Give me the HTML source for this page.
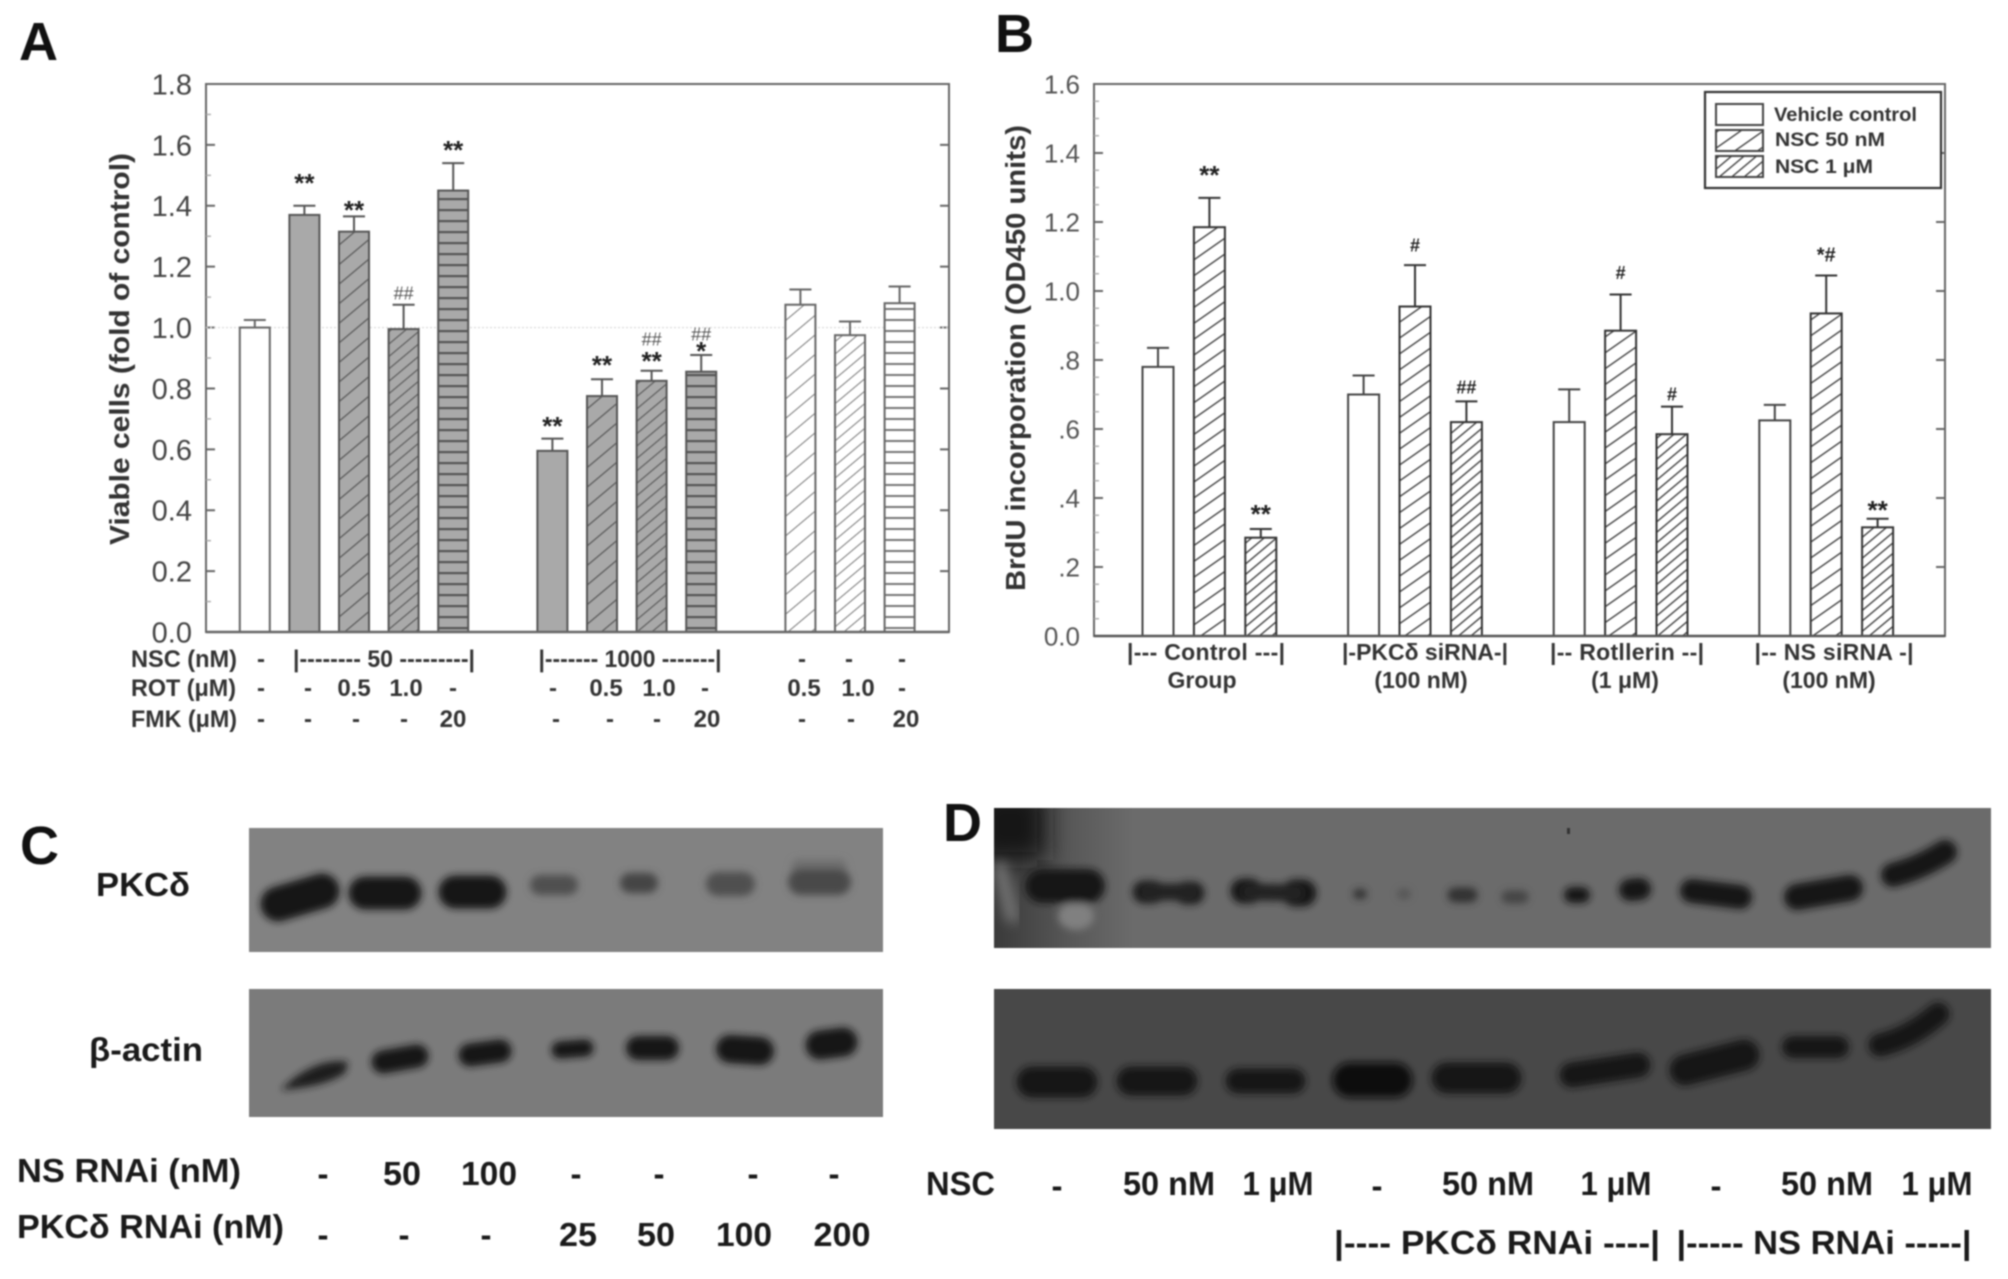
<!DOCTYPE html>
<html lang="en"><head><meta charset="utf-8"><title>Figure panels A-D</title>
<style>
html,body{margin:0;padding:0;background:#fff;width:2008px;height:1279px;overflow:hidden}
svg{display:block;filter:blur(.7px)}
text{font-family:"Liberation Sans",Arial,sans-serif}
.b{font-weight:bold}
.lab{font-weight:bold;fill:#1a1a1a;font-size:33px}
.row{font-weight:bold;fill:#333;font-size:24px;text-anchor:middle}
.brow{font-weight:bold;fill:#333;font-size:23px;text-anchor:middle}
.big{font-weight:bold;fill:#111;font-size:54px}
.band{fill:none;stroke:#151515;stroke-linecap:round}
</style></head><body>
<svg id="fig" xmlns="http://www.w3.org/2000/svg" width="2008" height="1279" viewBox="0 0 2008 1279">
<defs>
<pattern id="gWide" patternUnits="userSpaceOnUse" width="15" height="15" patternTransform="rotate(50)"><rect width="15" height="15" fill="#a9a9a9"/><line x1="0" y1="0" x2="0" y2="15" stroke="#555" stroke-width="2.4"/></pattern>
<pattern id="gDense" patternUnits="userSpaceOnUse" width="9.5" height="9.5" patternTransform="rotate(50)"><rect width="9.5" height="9.5" fill="#a9a9a9"/><line x1="0" y1="0" x2="0" y2="9.5" stroke="#555" stroke-width="2.2"/></pattern>
<pattern id="gHoriz" patternUnits="userSpaceOnUse" width="12" height="11"><rect width="12" height="11" fill="#a9a9a9"/><line x1="0" y1="1" x2="12" y2="1" stroke="#555" stroke-width="2.4"/></pattern>
<pattern id="wWide" patternUnits="userSpaceOnUse" width="15" height="15" patternTransform="rotate(50)"><rect width="15" height="15" fill="#fff"/><line x1="0" y1="0" x2="0" y2="15" stroke="#777" stroke-width="2"/></pattern>
<pattern id="wDense" patternUnits="userSpaceOnUse" width="9.5" height="9.5" patternTransform="rotate(50)"><rect width="9.5" height="9.5" fill="#fff"/><line x1="0" y1="0" x2="0" y2="9.5" stroke="#777" stroke-width="2"/></pattern>
<pattern id="wHoriz" patternUnits="userSpaceOnUse" width="12" height="11"><rect width="12" height="11" fill="#fff"/><line x1="0" y1="1" x2="12" y2="1" stroke="#777" stroke-width="2"/></pattern>
<pattern id="bWide" patternUnits="userSpaceOnUse" width="13" height="13" patternTransform="rotate(55)"><rect width="13" height="13" fill="#fff"/><line x1="0" y1="0" x2="0" y2="13" stroke="#333" stroke-width="2.6"/></pattern>
<pattern id="bDense" patternUnits="userSpaceOnUse" width="8" height="8" patternTransform="rotate(50)"><rect width="8" height="8" fill="#fff"/><line x1="0" y1="0" x2="0" y2="8" stroke="#333" stroke-width="2.6"/></pattern>
<filter id="bl" x="-30%" y="-80%" width="160%" height="260%"><feGaussianBlur stdDeviation="3.6"/></filter>
<filter id="bl3" x="-60%" y="-60%" width="220%" height="220%"><feGaussianBlur stdDeviation="6"/></filter>
<filter id="bl2" x="-60%" y="-60%" width="220%" height="220%"><feGaussianBlur stdDeviation="12"/></filter>
<linearGradient id="dLeft" x1="0" x2="1" y1="0" y2="0"><stop offset="0" stop-color="#3a3a3a"/><stop offset=".55" stop-color="#585858"/><stop offset="1" stop-color="#6b6b6b"/></linearGradient>
<clipPath id="clipD1"><rect x="994" y="808" width="997" height="140"/></clipPath>
</defs>

<text class="big" x="19" y="60">A</text>
<text class="big" x="995" y="52">B</text>
<text class="big" x="20" y="864">C</text>
<text class="big" x="943" y="841">D</text>

<g id="chartA"></g>
<g id="chartB"></g>

<text class="b" transform="translate(129,545) rotate(-90)" font-size="28" fill="#333" textLength="392" lengthAdjust="spacingAndGlyphs">Viable cells (fold of control)</text>
<text class="b" transform="translate(1025,591) rotate(-90)" font-size="28" fill="#333" textLength="466" lengthAdjust="spacingAndGlyphs">BrdU incorporation (OD450 units)</text>

<g>
<text class="row" style="text-anchor:start" x="131" y="667" textLength="106" lengthAdjust="spacingAndGlyphs">NSC (nM)</text>
<text class="row" x="261" y="667">-</text>
<text class="row" x="384" y="667" textLength="182" lengthAdjust="spacingAndGlyphs">|-------- 50 ---------|</text>
<text class="row" x="630" y="667" textLength="183" lengthAdjust="spacingAndGlyphs">|------- 1000 -------|</text>
<text class="row" x="802" y="667">-</text><text class="row" x="849" y="667">-</text><text class="row" x="902" y="667">-</text>
<text class="row" style="text-anchor:start" x="131" y="696" textLength="105" lengthAdjust="spacingAndGlyphs">ROT (μM)</text>
<text class="row" x="261" y="696">-</text><text class="row" x="308" y="696">-</text><text class="row" x="354" y="696">0.5</text><text class="row" x="406" y="696">1.0</text><text class="row" x="453" y="696">-</text>
<text class="row" x="553" y="696">-</text><text class="row" x="606" y="696">0.5</text><text class="row" x="659" y="696">1.0</text><text class="row" x="705" y="696">-</text>
<text class="row" x="804" y="696">0.5</text><text class="row" x="858" y="696">1.0</text><text class="row" x="902" y="696">-</text>
<text class="row" style="text-anchor:start" x="131" y="727" textLength="106" lengthAdjust="spacingAndGlyphs">FMK (μM)</text>
<text class="row" x="261" y="727">-</text><text class="row" x="308" y="727">-</text><text class="row" x="356" y="727">-</text><text class="row" x="404" y="727">-</text><text class="row" x="453" y="727">20</text>
<text class="row" x="556" y="727">-</text><text class="row" x="610" y="727">-</text><text class="row" x="657" y="727">-</text><text class="row" x="707" y="727">20</text>
<text class="row" x="802" y="727">-</text><text class="row" x="851" y="727">-</text><text class="row" x="906" y="727">20</text>
</g>

<g>
<text class="brow" x="1206" y="660" textLength="158" lengthAdjust="spacing">|--- Control ---|</text>
<text class="brow" x="1202" y="688">Group</text>
<text class="brow" x="1425" y="660" textLength="166" lengthAdjust="spacing">|-PKCδ siRNA-|</text>
<text class="brow" x="1421" y="688">(100 nM)</text>
<text class="brow" x="1627" y="660" textLength="154" lengthAdjust="spacing">|-- Rotllerin --|</text>
<text class="brow" x="1625" y="688">(1 μM)</text>
<text class="brow" x="1834" y="660" textLength="159" lengthAdjust="spacing">|-- NS siRNA -|</text>
<text class="brow" x="1829" y="688">(100 nM)</text>
</g>

<g>
<rect x="1705" y="92" width="236" height="96" fill="#fff" stroke="#333" stroke-width="2.2"/>
<rect x="1716" y="104" width="47" height="21" fill="#fff" stroke="#444" stroke-width="2"/>
<rect x="1716" y="130" width="47" height="21" fill="url(#bWide)" stroke="#444" stroke-width="2"/>
<rect x="1716" y="156" width="47" height="21" fill="url(#bDense)" stroke="#444" stroke-width="2"/>
<text class="b" x="1774" y="121" font-size="19" fill="#333" textLength="143" lengthAdjust="spacingAndGlyphs">Vehicle control</text>
<text class="b" x="1775" y="146" font-size="19" fill="#333" textLength="110" lengthAdjust="spacingAndGlyphs">NSC 50 nM</text>
<text class="b" x="1775" y="173" font-size="19" fill="#333" textLength="98" lengthAdjust="spacingAndGlyphs">NSC 1 μM</text>
</g>

<!-- Blot C -->
<g>
<rect x="249" y="828" width="634" height="124" fill="#828282"/>
<rect x="249" y="989" width="634" height="128" fill="#7b7b7b"/>
<g filter="url(#bl)">
<path class="band" stroke-width="35" d="M278 904L322 891"/>
<path class="band" stroke-width="33" d="M365 893H405"/>
<path class="band" stroke-width="33" d="M455 892H490"/>
<path class="band" style="stroke:#505050" stroke-width="20" d="M540 885H568"/>
<path class="band" style="stroke:#454545" stroke-width="20" d="M630 883H648"/>
<path class="band" style="stroke:#505050" stroke-width="24" d="M718 884H743"/>
<path class="band" style="stroke:#6e6e6e" stroke-width="18" d="M800 868H838"/>
<path class="band" style="stroke:#484848" stroke-width="26" d="M801 882H838"/>
<path fill="#1a1a1a" d="M281 1090C300 1070 325 1058 348 1062L345 1073C325 1086 300 1088 281 1090Z"/>
<path class="band" stroke-width="23" d="M383 1062L417 1056"/>
<path class="band" stroke-width="23" d="M470 1055L500 1051"/>
<path class="band" stroke-width="17" d="M560 1050L585 1048"/>
<path class="band" stroke-width="24" d="M638 1048H667"/>
<path class="band" stroke-width="28" d="M730 1049L760 1051"/>
<path class="band" stroke-width="29" d="M820 1045L843 1042"/>
</g>
</g>

<!-- Blot D -->
<g>
<rect x="994" y="808" width="997" height="140" fill="#6b6b6b"/>
<rect x="994" y="808" width="140" height="140" fill="url(#dLeft)"/>
<g clip-path="url(#clipD1)">
<rect x="975" y="790" width="70" height="70" fill="#161616" filter="url(#bl2)"/>
<path d="M980 940H1100" stroke="#181818" stroke-width="24" filter="url(#bl)"/>
<path d="M1925 925H1975" stroke="#5d5d5d" stroke-width="40" filter="url(#bl2)"/>
<path d="M1908 815V840" stroke="#7a7a7a" stroke-width="22" filter="url(#bl2)"/>
<path d="M1000 868L1012 916" stroke="#727272" stroke-width="14" stroke-linecap="round" filter="url(#bl3)"/>
<g filter="url(#bl)">
<ellipse cx="1076" cy="916" rx="18" ry="14" fill="#808080"/>
<path class="band" stroke-width="34" d="M1042 886H1088"/>
<path class="band" style="stroke:#1e1e1e" stroke-width="23" d="M1144 892H1153"/>
<path class="band" style="stroke:#1e1e1e" stroke-width="23" d="M1186 893H1193"/>
<path class="band" style="stroke:#222" stroke-width="17" d="M1150 892H1188"/>
<path class="band" stroke-width="25" d="M1243 891H1250"/>
<path class="band" stroke-width="27" d="M1295 893H1303"/>
<path class="band" style="stroke:#222" stroke-width="17" d="M1250 892L1295 893"/>
<path class="band" style="stroke:#333" stroke-width="10" d="M1358 894H1362"/>
<path class="band" style="stroke:#555" stroke-width="10" d="M1402 894H1406"/>
<path class="band" style="stroke:#333" stroke-width="15" d="M1455 895H1470"/>
<path class="band" style="stroke:#444" stroke-width="13" d="M1508 897H1522"/>
<path class="band" stroke-width="16" d="M1572 895H1582"/>
<path class="band" stroke-width="22" d="M1630 890L1640 889"/>
<path class="band" stroke-width="24" d="M1692 891L1740 897"/>
<path class="band" stroke-width="26" d="M1797 897L1850 888"/>
<path class="band" stroke-width="24" d="M1893 875Q1920 868 1945 852"/>
</g>
</g>
<rect x="994" y="989" width="997" height="140" fill="#484848"/>
<g filter="url(#bl)">
<path class="band" stroke-width="31" d="M1032 1082H1082"/>
<path class="band" stroke-width="29" d="M1131 1081H1183"/>
<path class="band" stroke-width="25" d="M1238 1081H1293"/>
<path class="band" style="stroke:#111" stroke-width="35" d="M1350 1080H1395"/>
<path class="band" stroke-width="31" d="M1447 1078H1506"/>
<path class="band" stroke-width="25" d="M1572 1075L1638 1065"/>
<path class="band" stroke-width="31" d="M1685 1070L1744 1055"/>
<path class="band" stroke-width="22" d="M1793 1047H1838"/>
<path class="band" stroke-width="23" d="M1880 1045Q1910 1038 1938 1014"/>
</g>
<rect x="1567" y="828" width="3" height="6" fill="#333"/>
</g>

<g>
<text class="lab" x="96" y="896" textLength="94" lengthAdjust="spacingAndGlyphs">PKCδ</text>
<text class="lab" x="89" y="1061" textLength="114" lengthAdjust="spacingAndGlyphs">β-actin</text>
<text class="lab" x="17" y="1182" textLength="224" lengthAdjust="spacingAndGlyphs">NS RNAi (nM)</text>
<text class="lab" x="17" y="1238" textLength="267" lengthAdjust="spacingAndGlyphs">PKCδ RNAi (nM)</text>
<g text-anchor="middle">
<text class="lab" x="323" y="1185">-</text><text class="lab" x="402" y="1185" textLength="38" lengthAdjust="spacingAndGlyphs">50</text><text class="lab" x="489" y="1185" textLength="56" lengthAdjust="spacingAndGlyphs">100</text><text class="lab" x="576" y="1185">-</text><text class="lab" x="659" y="1185">-</text><text class="lab" x="753" y="1185">-</text><text class="lab" x="834" y="1185">-</text>
<text class="lab" x="323" y="1246">-</text><text class="lab" x="404" y="1246">-</text><text class="lab" x="486" y="1246">-</text><text class="lab" x="578" y="1246" textLength="38" lengthAdjust="spacingAndGlyphs">25</text><text class="lab" x="656" y="1246" textLength="38" lengthAdjust="spacingAndGlyphs">50</text><text class="lab" x="744" y="1246" textLength="56" lengthAdjust="spacingAndGlyphs">100</text><text class="lab" x="842" y="1246" textLength="57" lengthAdjust="spacingAndGlyphs">200</text>
</g>
</g>

<g>
<text class="lab" x="926" y="1195" textLength="69" lengthAdjust="spacingAndGlyphs">NSC</text>
<g text-anchor="middle">
<text class="lab" x="1057" y="1197">-</text>
<text class="lab" x="1169" y="1195" textLength="92" lengthAdjust="spacingAndGlyphs">50 nM</text>
<text class="lab" x="1278" y="1195" textLength="71" lengthAdjust="spacingAndGlyphs">1 μM</text>
<text class="lab" x="1377" y="1197">-</text>
<text class="lab" x="1488" y="1195" textLength="92" lengthAdjust="spacingAndGlyphs">50 nM</text>
<text class="lab" x="1616" y="1195" textLength="71" lengthAdjust="spacingAndGlyphs">1 μM</text>
<text class="lab" x="1716" y="1197">-</text>
<text class="lab" x="1827" y="1195" textLength="92" lengthAdjust="spacingAndGlyphs">50 nM</text>
<text class="lab" x="1937" y="1195" textLength="71" lengthAdjust="spacingAndGlyphs">1 μM</text>
<text class="lab" x="1497" y="1254" textLength="326" lengthAdjust="spacingAndGlyphs">|---- PKCδ RNAi ----|</text>
<text class="lab" x="1824" y="1254" textLength="295" lengthAdjust="spacingAndGlyphs">|----- NS RNAi -----|</text>
</g>
</g>
</svg>

<script>
// ---- Panel A data ----
const categoriesA = ["Control","NSC50","NSC50+ROT0.5","NSC50+ROT1.0","NSC50+FMK20","NSC1000","NSC1000+ROT0.5","NSC1000+ROT1.0","NSC1000+FMK20","ROT0.5","ROT1.0","FMK20"];
const groupSizesA = [5,4,3];
const valuesA = [1.00,1.37,1.315,0.995,1.45,0.595,0.775,0.825,0.855,1.075,0.975,1.08];
const errorTopsA = [1.025,1.40,1.365,1.075,1.54,0.635,0.83,0.858,0.91,1.125,1.02,1.135];
const starsA = ["","**","**","","**","**","**","**","*","","",""];
const starLevelsA = [0,1.485,1.396,0,1.593,0.687,0.887,0.90,0.933,0,0,0];
const hashesA = ["","","","##","","","","##","##","","",""];
const hashLevelsA = [0,0,0,1.114,0,0,0,0.963,0.979,0,0,0];
const tickValuesA = [0,0.2,0.4,0.6,0.8,1.0,1.2,1.4,1.6,1.8];
const tickLabelsA = ["0.0","0.2","0.4","0.6","0.8","1.0","1.2","1.4","1.6","1.8"];
// ---- Panel B data ----
const seriesNamesB = ["Vehicle control","NSC 50 nM","NSC 1 uM"];
const groupNamesB = ["Control","PKCd siRNA","Rottlerin","NS siRNA"];
const vehicleB = [0.78,0.70,0.62,0.625];
const nsc50B = [1.185,0.955,0.885,0.935];
const nsc1B = [0.285,0.62,0.585,0.315];
const vehicleErrB = [0.835,0.755,0.715,0.67];
const nsc50ErrB = [1.27,1.075,0.99,1.045];
const nsc1ErrB = [0.31,0.68,0.665,0.34];
const nsc50MarksB = ["**","#","#","*#"];
const nsc1MarksB = ["**","##","#","**"];
const nsc50MarkLevelsB = [1.345,1.134,1.053,1.107];
const nsc1MarkLevelsB = [0.362,0.722,0.702,0.374];
const tickValuesB = [0,0.2,0.4,0.6,0.8,1.0,1.2,1.4,1.6];
const tickLabelsB = ["0.0",".2",".4",".6",".8","1.0","1.2","1.4","1.6"];

const NS = "http://www.w3.org/2000/svg";
function mk(tag, parent, attrs){
  const e = document.createElementNS(NS, tag);
  for (const k in attrs) e.setAttribute(k, attrs[k]);
  parent.appendChild(e);
  return e;
}

// ---- Axis functions ----
const A = {l:206, r:949, t:84, b:632, max:1.8};
const B = {l:1094, r:1945, t:84, b:636, max:1.6};
const yA = v => A.b - v * (A.b - A.t) / A.max;
const xA = s => 254.8 + 49.6 * s;
const yB = v => B.b - v * (B.b - B.t) / B.max;
const xB = s => 1158 + 51.4 * s;

function fillA(name){
  const base = name.indexOf("NSC") >= 0 ? "g" : "w";
  if (name.indexOf("ROT0.5") >= 0) return "url(#" + base + "Wide)";
  if (name.indexOf("ROT1.0") >= 0) return "url(#" + base + "Dense)";
  if (name.indexOf("FMK") >= 0) return "url(#" + base + "Horiz)";
  return base === "g" ? "#a9a9a9" : "#fff";
}

function drawFrame(g, P, ticks, labels, yf, minorStep, fontSize, labelColor){
  const frame = mk("rect", g, {x:P.l, y:P.t, width:P.r-P.l, height:P.b-P.t, fill:"#fff", stroke:"#666", "stroke-width":2});
  
  
  for (let m = 0; m <= P.max + 1e-6; m += minorStep){
    const my = yf(m);
    const minor = mk("path", g, {d:"M"+P.l+" "+my+"h5", stroke:"#aaa", "stroke-width":1.4});
    
    
  }
  ticks.forEach((t,i) => {
    const ty = yf(t);
    const tick = mk("path", g, {d:"M"+P.l+" "+ty+"h9M"+P.r+" "+ty+"h-9", stroke:"#666", "stroke-width":2});
    
    
    const lab = mk("text", g, {x:P.l-14, y:ty+fontSize*0.36, "text-anchor":"end", "font-size":fontSize, fill:labelColor});
    lab.textContent = labels[i];
    
    
  });
}

function drawBar(g, cx, top, errTop, base, halfW, fill, stroke, sw){
  const cap = mk("path", g, {d:"M"+cx+" "+top+"V"+errTop+"M"+(cx-11)+" "+errTop+"h22", stroke:stroke, "stroke-width":2, fill:"none"});
  
  
  const bar = mk("rect", g, {x:cx-halfW, y:top, width:halfW*2, height:base-top, fill:fill, stroke:stroke, "stroke-width":sw});
  
  
}

function drawMark(g, text, cx, cy, kind){
  const hasStar = text.indexOf("*") >= 0, hasHash = text.indexOf("#") >= 0;
  const fs = hasStar && hasHash ? 20 : (hasStar ? 26 : 18);
  const lift = hasStar && !hasHash ? 0.46 : 0.36;
  const heavy = hasStar || kind === "b";
  const t = mk("text", g, {x:cx, y:cy + fs*lift, "text-anchor":"middle", "font-size":fs, "font-weight":heavy?"bold":"normal", fill:heavy?"#222":"#555"});
  t.textContent = text;
  
  
}

// ---- Panel A ----
(function(){
  const g = document.getElementById("chartA");
  drawFrame(g, A, tickValuesA, tickLabelsA, yA, 0.1, 29, "#444");
  const ref = mk("line", g, {x1:A.l, x2:A.r, y1:yA(1), y2:yA(1), stroke:"#ddd", "stroke-width":1.4, "stroke-dasharray":"2 2"});
  
  
  let idx = 0, slot = 0;
  groupSizesA.forEach(size => {
    for (let k = 0; k < size; k++, idx++, slot++){
      const cx = xA(slot);
      drawBar(g, cx, yA(valuesA[idx]), yA(errorTopsA[idx]), A.b, 15, fillA(categoriesA[idx]), categoriesA[idx].indexOf("NSC")>=0 ? "#555" : "#666", 2);
      if (starsA[idx]) drawMark(g, starsA[idx], cx, yA(starLevelsA[idx]), "a");
      if (hashesA[idx]) drawMark(g, hashesA[idx], cx, yA(hashLevelsA[idx]), "a");
    }
    slot++;
  });
  const base = mk("path", g, {d:"M"+A.l+" "+A.b+"H"+A.r, stroke:"#666", "stroke-width":2.4});
  
  
})();

// ---- Panel B ----
(function(){
  const g = document.getElementById("chartB");
  drawFrame(g, B, tickValuesB, tickLabelsB, yB, 0.05, 26, "#555");
  groupNamesB.forEach((name, i) => {
    const s = i * 4;
    drawBar(g, xB(s), yB(vehicleB[i]), yB(vehicleErrB[i]), B.b, 15.5, "#fff", "#444", 2);
    drawBar(g, xB(s+1), yB(nsc50B[i]), yB(nsc50ErrB[i]), B.b, 15.5, "url(#bWide)", "#333", 2);
    drawBar(g, xB(s+2), yB(nsc1B[i]), yB(nsc1ErrB[i]), B.b, 15.5, "url(#bDense)", "#333", 2);
    if (nsc50MarksB[i]) drawMark(g, nsc50MarksB[i], xB(s+1), yB(nsc50MarkLevelsB[i]), "b");
    if (nsc1MarksB[i]) drawMark(g, nsc1MarksB[i], xB(s+2), yB(nsc1MarkLevelsB[i]), "b");
  });
  const base = mk("path", g, {d:"M"+B.l+" "+B.b+"H"+B.r, stroke:"#555", "stroke-width":2.4});
  
  
})();
</script>
</body></html>
